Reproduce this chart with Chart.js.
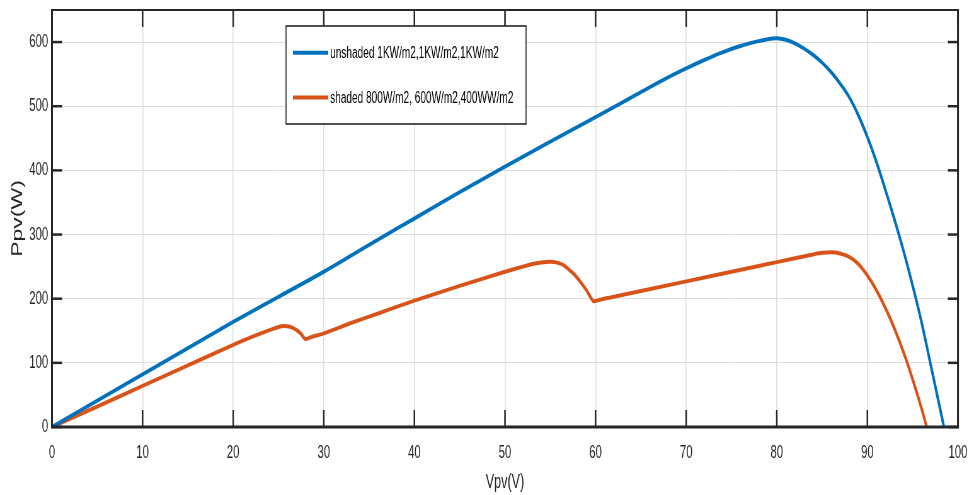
<!DOCTYPE html>
<html>
<head>
<meta charset="utf-8">
<script src="https://cdn.jsdelivr.net/npm/chart.js@4/dist/chart.umd.min.js"></script>
<style>
  html, body { margin: 0; padding: 0; background: #ffffff; overflow: hidden; width: 968px; height: 495px; }
  #wrap { position: absolute; left: 0; top: 0; width: 1536px; height: 495px; transform: scaleX(0.63); transform-origin: 0 0; }
  canvas { display: block; }
</style>
</head>
<body>
<div id="wrap"><canvas id="c" width="1536" height="495"></canvas></div>
<script>
// ---- data ----
const seriesNames = ['unshaded 1KW/m2,1KW/m2,1KW/m2', 'shaded 800W/m2, 600W/m2,400WW/m2'];

const unshadedV = [0, 5, 10, 15, 20, 25, 30, 35, 40, 45, 50, 55, 60, 65, 68, 70, 72, 74, 76, 78, 79, 80, 81, 82, 83, 84, 85, 86, 87, 88, 89, 90, 91, 92, 93, 94, 95, 96, 97, 98, 98.45];
const unshadedP = [0, 41, 82, 123, 164, 203, 242, 284, 325, 366, 406, 445, 483, 522, 545, 559, 572, 584, 594, 601.5, 604.5, 606, 603.5, 598, 590, 580, 568, 553, 535, 514, 486, 452, 413, 369, 323, 274, 220, 162, 96, 30, 0];

const shadedV = [0, 5, 10, 15, 20, 22, 24, 25, 25.5, 26, 26.5, 27, 27.5, 28, 28.5, 30, 33, 36, 40, 45, 50, 52, 53, 54, 55, 55.5, 56, 56.5, 57, 57.5, 58, 58.5, 59, 59.5, 59.8, 60.5, 62, 65, 70, 75, 78, 80, 82, 84, 85, 86, 87, 88, 89, 90, 91, 92, 93, 94, 95, 96, 96.55];
const shadedP = [0, 32, 64, 96, 128, 140, 151, 156, 157.5, 157, 155, 151, 145, 137, 139.5, 146, 162, 177, 197, 220, 242, 250, 254, 256.5, 257.5, 257, 255, 252, 246, 240, 232, 223, 213, 201, 196, 198.5, 203, 212, 227, 242, 251, 257, 263, 269, 271.5, 272.5, 270.5, 265, 254, 236, 213, 185, 153, 116, 74, 28, 0];

const xTicks = [0, 10, 20, 30, 40, 50, 60, 70, 80, 90, 100];
const yTicks = [0, 100, 200, 300, 400, 500, 600];
const xLabel = 'Vpv(V)';
const yLabel = 'Ppv(W)';

// ---- build chart ----
const toPts = (xs, ys) => xs.map((v, i) => ({ x: v, y: ys[i] }));
const INK = '#262626';
const FONT = '"Liberation Sans", Arial, sans-serif';

const boxPlugin = {
  id: 'matlabBox',
  afterDatasetsDraw(chart) {
    const { ctx, chartArea: a, scales: { x, y } } = chart;
    ctx.save();
    ctx.strokeStyle = INK;
    const seg = (x1, y1, x2, y2, w) => { ctx.lineWidth = w; ctx.beginPath(); ctx.moveTo(x1, y1); ctx.lineTo(x2, y2); ctx.stroke(); };
    xTicks.forEach(v => {
      const px = x.getPixelForValue(v);
      seg(px, a.bottom, px, a.bottom - 17, 2.5);
      seg(px, a.top, px, a.top + 17, 2.5);
    });
    yTicks.forEach(v => {
      const py = y.getPixelForValue(v);
      seg(a.left, py, a.left + 16, py, 2.5);
      seg(a.right, py, a.right - 16, py, 2.5);
    });
    seg(a.left - 1.5, a.bottom, a.right + 1.5, a.bottom, 3);
    seg(a.left - 1.5, a.top, a.right + 1.5, a.top, 2);
    seg(a.left, a.top, a.left, a.bottom, 3);
    seg(a.right, a.top, a.right, a.bottom, 3);
    ctx.restore();
  }
};

const legendPlugin = {
  id: 'insideLegend',
  afterDraw(chart) {
    const { ctx } = chart;
    const L = 454, T = 26, R = 835, B = 124;
    ctx.save();
    ctx.fillStyle = '#ffffff';
    ctx.fillRect(L, T, R - L, B - T);
    ctx.strokeStyle = INK;
    ctx.lineWidth = 1.6;
    ctx.strokeRect(L, T, R - L, B - T);
    const rows = [52.7, 97.5];
    chart.data.datasets.forEach((ds, i) => {
      const yy = rows[i];
      ctx.strokeStyle = ds.borderColor;
      ctx.lineWidth = 4;
      ctx.beginPath(); ctx.moveTo(465, yy); ctx.lineTo(521, yy); ctx.stroke();
      ctx.fillStyle = '#000000';
      ctx.font = '16px ' + FONT;
      ctx.textBaseline = 'middle';
      ctx.textAlign = 'left';
      ctx.fillText(ds.label, 524, yy + 1);
    });
    ctx.restore();
  }
};

new Chart(document.getElementById('c'), {
  type: 'scatter',
  data: {
    datasets: [
      { label: seriesNames[0], data: toPts(unshadedV, unshadedP), showLine: true, borderColor: '#0072BD', borderWidth: 4, pointRadius: 0, cubicInterpolationMode: 'monotone', borderJoinStyle: 'round', fill: false },
      { label: seriesNames[1], data: toPts(shadedV, shadedP), showLine: true, borderColor: '#D95319', borderWidth: 4, pointRadius: 0, cubicInterpolationMode: 'monotone', borderJoinStyle: 'round', fill: false }
    ]
  },
  options: {
    responsive: false,
    animation: false,
    devicePixelRatio: 1,
    layout: { padding: { top: 10, right: 15.4, left: 0, bottom: 0 } },
    plugins: { legend: { display: false }, tooltip: { enabled: false } },
    scales: {
      x: {
        type: 'linear', min: 0, max: 100,
        afterBuildTicks: s => { s.ticks = xTicks.map(v => ({ value: v })); },
        afterFit: s => { s.height = 68; s.paddingLeft = 0; s.paddingRight = 0; },
        grid: { color: '#dedede', lineWidth: 1.6, drawTicks: false },
        border: { display: false },
        ticks: { color: INK, font: { family: FONT, size: 18 }, padding: 15, maxRotation: 0 },
        title: { display: true, text: xLabel, color: INK, font: { family: FONT, size: 20 }, padding: { top: 0, bottom: 1 } }
      },
      y: {
        type: 'linear', min: 0, max: 650,
        afterBuildTicks: s => { s.ticks = yTicks.map(v => ({ value: v })); },
        afterFit: s => { s.width = 82.5; s.paddingTop = 0; s.paddingBottom = 0; },
        grid: { color: '#dedede', lineWidth: 1, drawTicks: false },
        border: { display: false },
        ticks: { color: INK, font: { family: FONT, size: 18 }, padding: 6 },
        title: { display: true, text: yLabel, color: INK, font: { family: FONT, size: 23 }, padding: { top: 15, bottom: 0 } }
      }
    }
  },
  plugins: [boxPlugin, legendPlugin]
});
</script>
</body>
</html>
